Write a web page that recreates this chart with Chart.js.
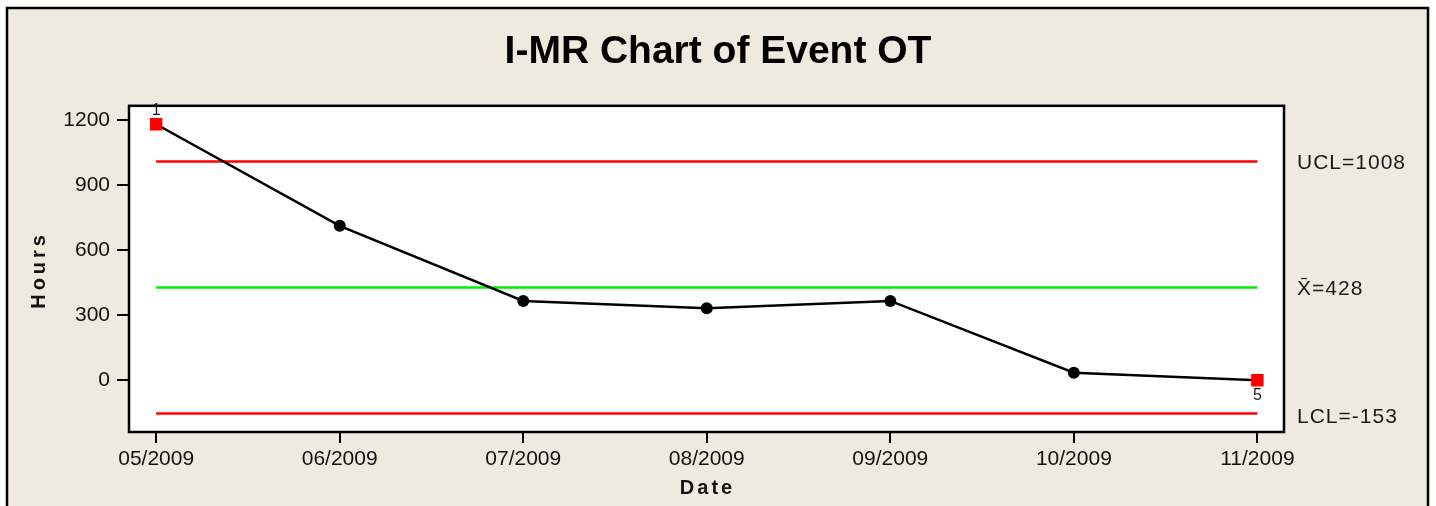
<!DOCTYPE html>
<html>
<head>
<meta charset="utf-8">
<script src="https://cdn.jsdelivr.net/npm/chart.js@4"></script>
<style>
  html, body { margin: 0; padding: 0; background: #ffffff; }
  #wrap { width: 1436px; height: 506px; position: relative; }
</style>
</head>
<body>
<div id="wrap"><canvas id="c" width="1436" height="506"></canvas></div>
<script>
// ---- data ----
const months = ['05/2009', '06/2009', '07/2009', '08/2009', '09/2009', '10/2009', '11/2009'];
const hours = [1180, 712, 366, 332, 366, 35, 0];
const testLabels = ['1', '', '', '', '', '', '5'];
const limitNames = ['UCL', 'X\u0304', 'LCL'];
const limitValues = [1008, 428, -153];
const yTickValues = [0, 300, 600, 900, 1200];

const BEIGE = '#EEEAE0';
const FONT = "'Liberation Sans', Arial, sans-serif";

const mainPoints = hours.map((v, i) => ({ x: i, y: v }));
const flagged = testLabels.map(t => t !== '');

function limitDataset(value, color) {
  return {
    type: 'line',
    data: [{ x: 0, y: value }, { x: months.length - 1, y: value }],
    borderColor: color,
    borderWidth: 2.5,
    pointRadius: 0,
    fill: false,
    order: 2
  };
}

const framePlugin = {
  id: 'frame',
  beforeDraw(chart) {
    const ctx = chart.ctx;
    const a = chart.chartArea;
    ctx.save();
    ctx.fillStyle = '#ffffff';
    ctx.fillRect(0, 0, chart.width, chart.height);
    ctx.fillStyle = BEIGE;
    ctx.fillRect(7, 8, 1421, 520);
    ctx.strokeStyle = '#000';
    ctx.lineWidth = 2.5;
    ctx.strokeRect(7, 8, 1421, 520);
    ctx.fillStyle = '#ffffff';
    ctx.fillRect(a.left, a.top, a.right - a.left, a.bottom - a.top);
    ctx.restore();
  },
  afterDraw(chart) {
    const ctx = chart.ctx;
    const a = chart.chartArea;
    const ys = chart.scales.y;
    ctx.save();
    // plot frame
    ctx.strokeStyle = '#000';
    ctx.lineWidth = 2.5;
    ctx.strokeRect(a.left, a.top, a.right - a.left, a.bottom - a.top);

    // limit labels on the right
    ctx.fillStyle = '#1a1a1a';
    ctx.font = '21px ' + FONT;
    ctx.textAlign = 'left';
    ctx.textBaseline = 'middle';
    const offs = [2, 2, 4];
    limitNames.forEach((n, i) => {
      const y = ys.getPixelForValue(limitValues[i]) + offs[i];
      ctx.letterSpacing = '1px';
      ctx.fillText(n + '=' + limitValues[i], a.right + 13, y);
    });
    ctx.letterSpacing = '0px';

    // test failure labels
    ctx.font = '16px ' + FONT;
    ctx.textAlign = 'center';
    const meta = chart.getDatasetMeta(0);
    testLabels.forEach((t, i) => {
      if (!t) return;
      const p = meta.data[i];
      const dy = i === 0 ? -14 : 15;
      ctx.fillText(t, p.x, p.y + dy);
    });

    // axis titles
    ctx.fillStyle = '#111';
    ctx.font = 'bold 20px ' + FONT;
    ctx.letterSpacing = '3px';
    ctx.textAlign = 'center';
    ctx.textBaseline = 'middle';
    ctx.fillText('Date', (a.left + a.right) / 2 + 1, 488);
    ctx.translate(39, (a.top + a.bottom) / 2 + 1);
    ctx.rotate(-Math.PI / 2);
    ctx.letterSpacing = '4px';
    ctx.fillText('Hours', 0, 0);
    ctx.restore();
  }
};

new Chart(document.getElementById('c'), {
  type: 'line',
  data: {
    datasets: [
      {
        type: 'line',
        data: mainPoints,
        borderColor: '#000',
        borderWidth: 2.5,
        pointStyle: flagged.map(f => f ? 'rect' : 'circle'),
        pointRadius: flagged.map(f => f ? 8.8 : 6),
        pointBackgroundColor: flagged.map(f => f ? '#ff0000' : '#000'),
        pointBorderWidth: 0,
        pointBorderColor: flagged.map(f => f ? '#ff0000' : '#000'),
        tension: 0,
        fill: false,
        order: 1
      },
      limitDataset(limitValues[0], '#ff0000'),
      limitDataset(limitValues[1], '#00ee00'),
      limitDataset(limitValues[2], '#ff0000')
    ]
  },
  options: {
    responsive: false,
    animation: false,
    events: [],
    layout: { padding: { left: 0, right: 0, top: 10, bottom: 6 } },
    plugins: {
      legend: { display: false },
      tooltip: { enabled: false },
      title: {
        display: true,
        text: 'I-MR Chart of Event OT',
        color: '#000',
        font: { family: FONT, size: 39, weight: 'bold' },
        padding: { top: 19, bottom: 30 }
      }
    },
    scales: {
      x: {
        type: 'linear',
        min: -0.148,
        max: 6.145,
        afterBuildTicks(scale) { scale.ticks = months.map((m, i) => ({ value: i })); },
        afterFit(scale) { scale.height = 68; },
        ticks: {
          callback: (v) => months[v],
          color: '#111',
          font: { family: FONT, size: 21 },
          padding: 4,
          maxRotation: 0,
          autoSkip: false
        },
        grid: { drawOnChartArea: false, drawTicks: true, tickLength: 11, color: '#000', lineWidth: 2 },
        border: { display: false }
      },
      y: {
        type: 'linear',
        position: 'left',
        min: -238,
        max: 1265,
        afterBuildTicks(scale) { scale.ticks = yTickValues.map(v => ({ value: v })); },
        afterFit(scale) { scale.width = 129; },
        ticks: {
          callback: (v) => String(v),
          color: '#111',
          font: { family: FONT, size: 21 },
          padding: 7
        },
        grid: { drawOnChartArea: false, drawTicks: true, tickLength: 12, color: '#000', lineWidth: 2 },
        border: { display: false }
      },
      yRight: {
        type: 'linear',
        position: 'right',
        min: -238,
        max: 1265,
        afterFit(scale) { scale.width = 152; },
        ticks: { display: false },
        grid: { display: false, drawTicks: false },
        border: { display: false }
      }
    }
  },
  plugins: [framePlugin]
});
</script>
</body>
</html>
